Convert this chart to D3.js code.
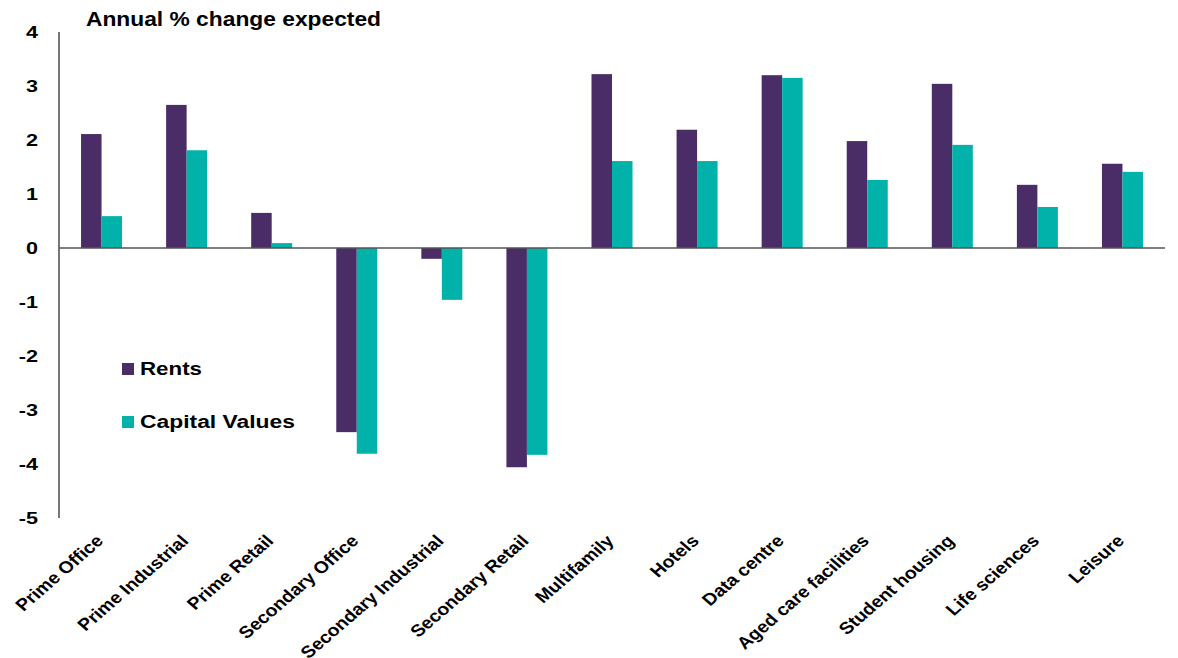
<!DOCTYPE html>
<html><head><meta charset="utf-8">
<script src="https://cdn.jsdelivr.net/npm/d3@7"></script>
<style>body{margin:0;background:#fff;}svg{display:block;font-family:"Liberation Sans",Arial,sans-serif;}</style>
</head><body>
<svg id="chart" width="1178" height="658"></svg>
<script>
const categories = ["Prime Office","Prime Industrial","Prime Retail","Secondary Office","Secondary Industrial","Secondary Retail","Multifamily","Hotels","Data centre","Aged care facilities","Student housing","Life sciences","Leisure"];
const rents = [2.11,2.65,0.65,-3.41,-0.2,-4.06,3.22,2.19,3.2,1.98,3.04,1.17,1.56];
const capitalValues = [0.59,1.81,0.09,-3.81,-0.96,-3.83,1.61,1.61,3.15,1.26,1.91,0.76,1.41];
const seriesNames = ["Rents","Capital Values"];
const yTicks = [4,3,2,1,0,-1,-2,-3,-4,-5];
const colors = ["#4a2d67","#00b2a9"];

(function(){
const svg = d3.select("#chart");
const mLeft = 59, mRight = 1165, mTop = 32, mBottom = 518;
const x = d3.scaleBand().domain(categories).range([mLeft, mRight]).paddingInner(0).paddingOuter(0);
const y = d3.scaleLinear().domain([-5,4]).range([mBottom, mTop]);
const barW = 20.5;

const series = [rents, capitalValues];
series.forEach((vals, si) => {
  svg.append("g").selectAll("rect").data(categories).enter().append("rect")
    .attr("x", d => x(d) + x.bandwidth()/2 - barW + si*barW)
    .attr("width", barW)
    .attr("y", (d,i) => y(Math.max(0, vals[i])))
    .attr("height", (d,i) => Math.abs(y(vals[i]) - y(0)))
    .attr("fill", colors[si]);
});

svg.append("line").attr("x1", mLeft).attr("x2", mLeft).attr("y1", mTop).attr("y2", mBottom)
  .attr("stroke", "#555").attr("stroke-width", 1.6);
svg.append("line").attr("x1", mLeft).attr("x2", mRight).attr("y1", y(0)).attr("y2", y(0))
  .attr("stroke", "#555").attr("stroke-width", 1.6);

svg.append("g").selectAll("text").data(yTicks).enter().append("text")
  .attr("transform", d => `translate(38,${y(d)}) scale(1.27,1)`)
  .attr("dy", "0.36em")
  .attr("text-anchor", "end").attr("font-size", 17).attr("font-weight", "bold")
  .text(d => d);

svg.append("g").selectAll("text").data(categories).enter().append("text")
  .attr("transform", d => `translate(${x(d) + x.bandwidth()/2 + 3},${542}) scale(1.16,1) rotate(-45)`)
  .attr("text-anchor", "end").attr("font-size", 16.8).attr("font-weight", "bold")
  .text(d => d);

svg.append("text").attr("x", 86).attr("y", 26).attr("font-size", 20).attr("font-weight", "bold")
  .attr("textLength", 295).attr("lengthAdjust", "spacingAndGlyphs")
  .text("Annual % change expected");

const legY = [369, 422];
const legW = [62, 155];
seriesNames.forEach((n, i) => {
  svg.append("rect").attr("x", 122).attr("y", legY[i] - 6).attr("width", 12).attr("height", 12).attr("fill", colors[i]);
  svg.append("text").attr("x", 140).attr("y", legY[i]).attr("dy", "0.36em")
    .attr("font-size", 18).attr("font-weight", "bold")
    .attr("textLength", legW[i]).attr("lengthAdjust", "spacingAndGlyphs").text(n);
});
})();
</script>
</body></html>
